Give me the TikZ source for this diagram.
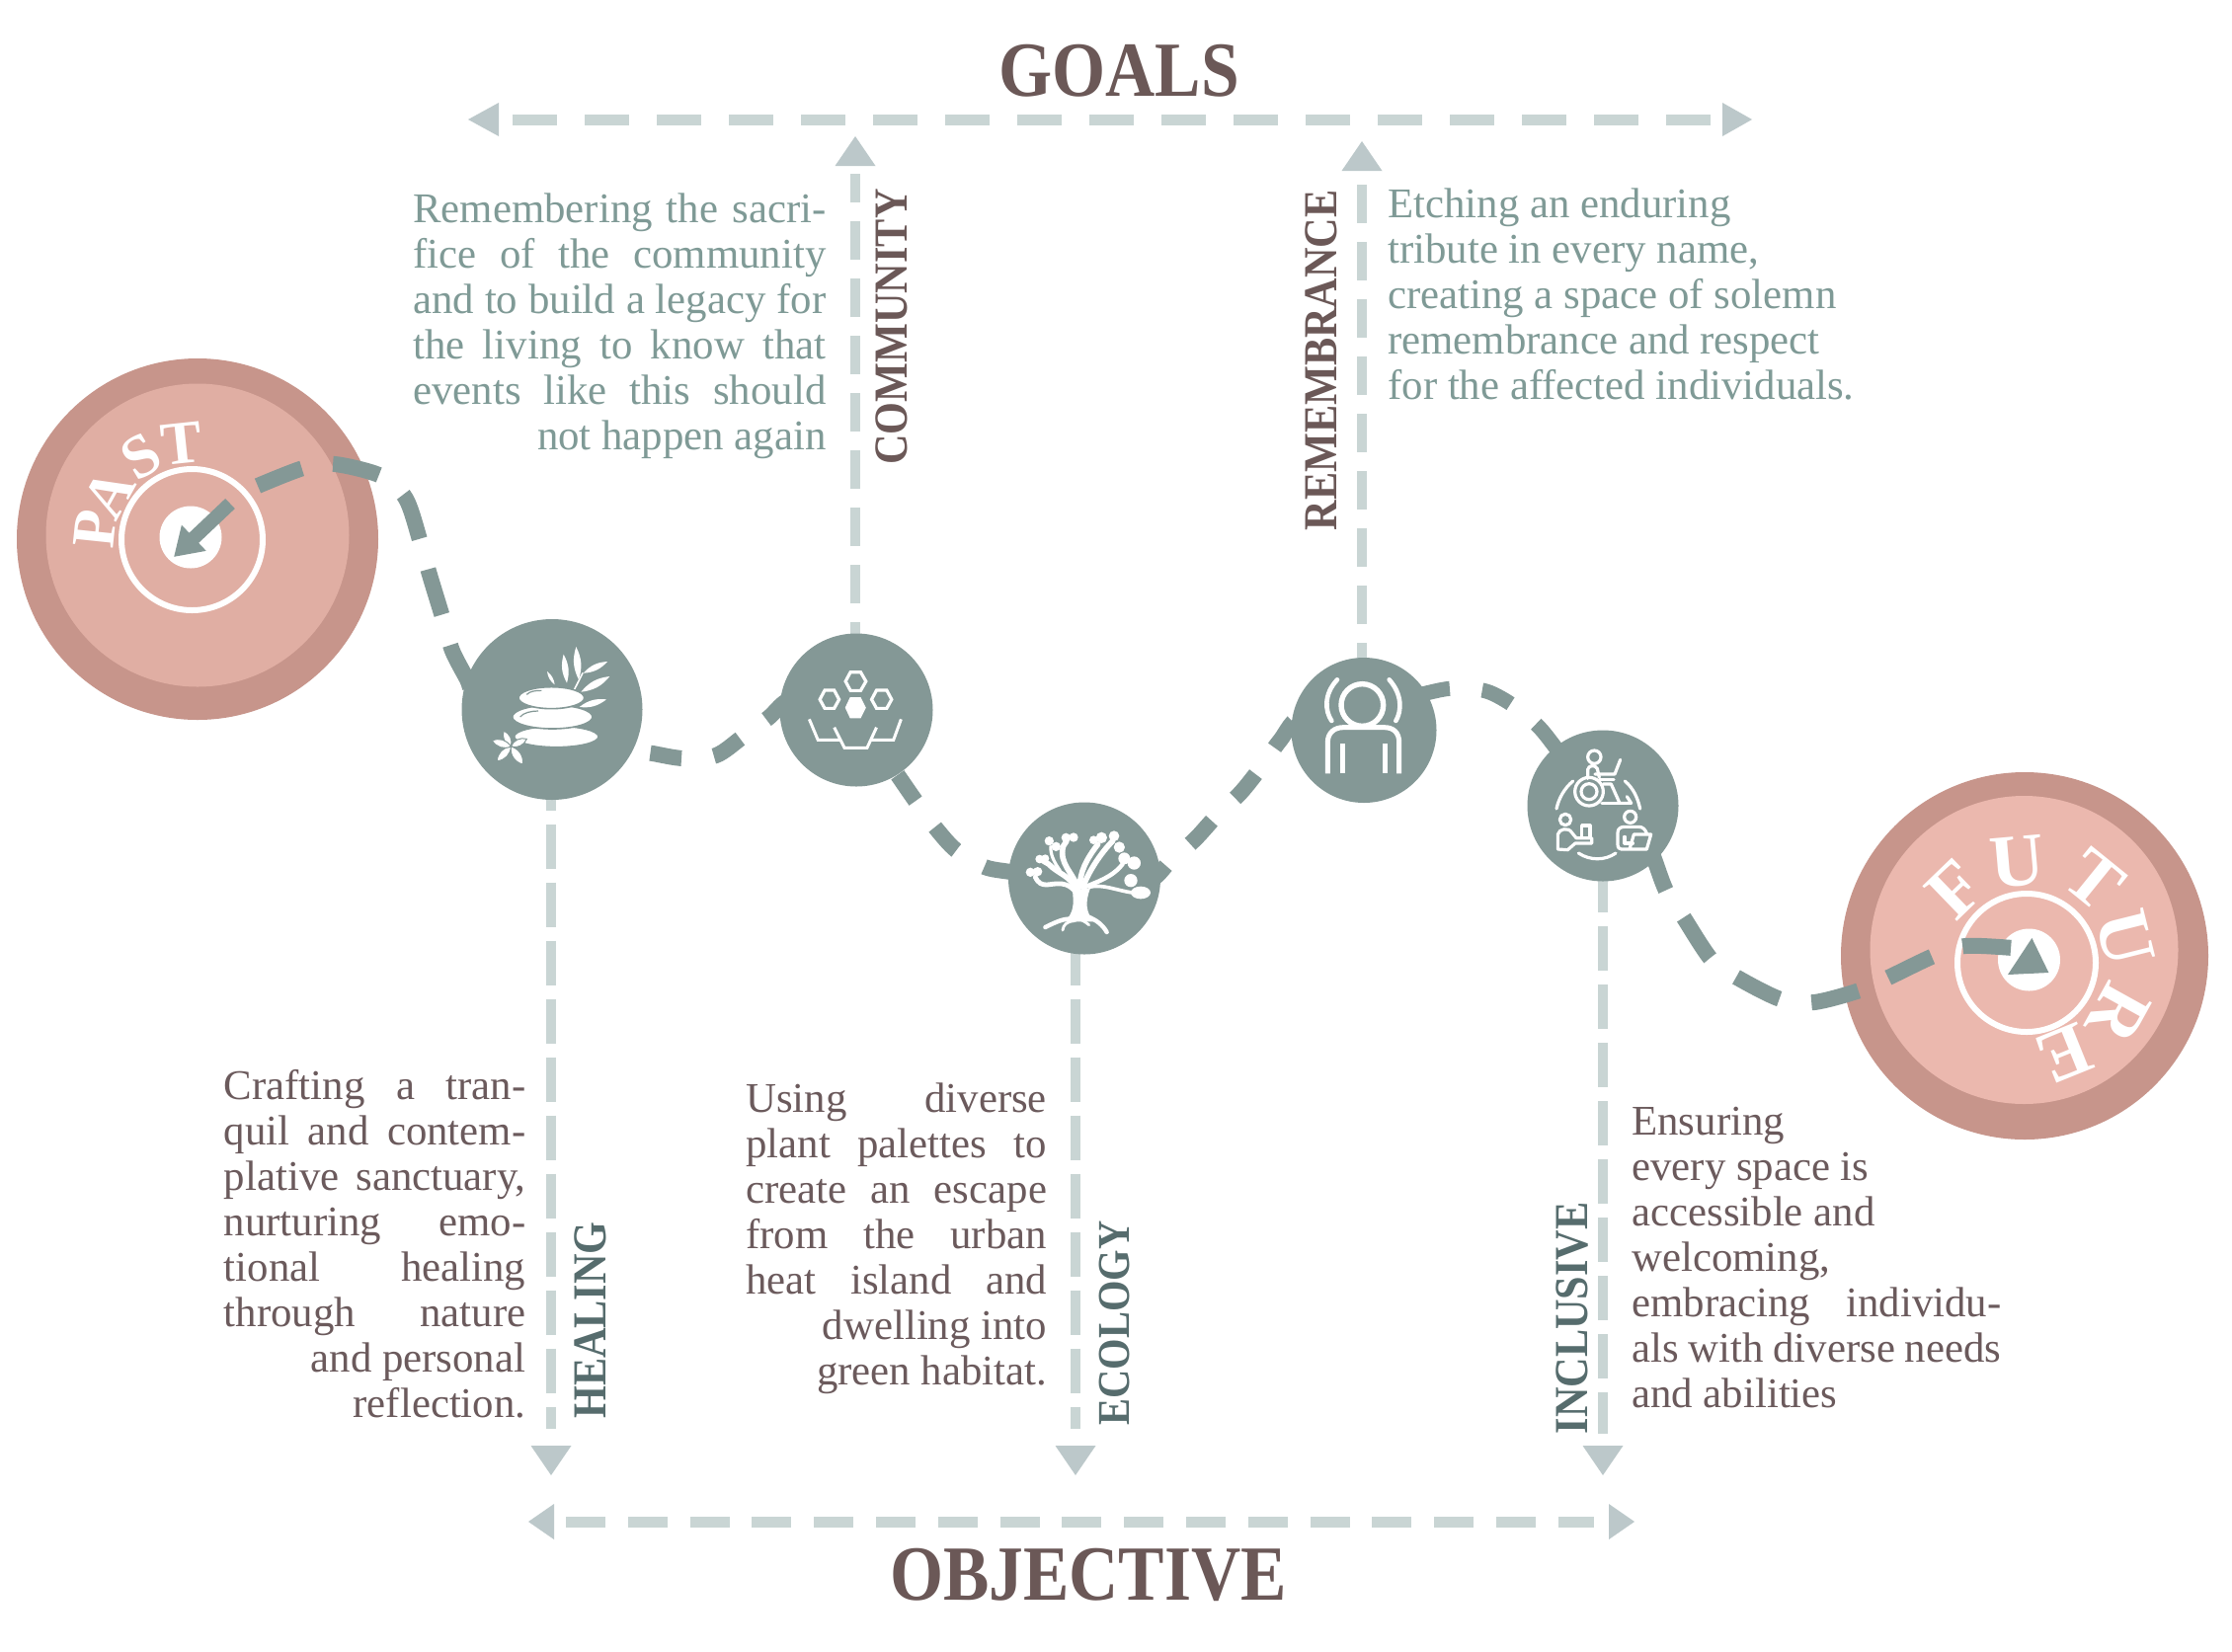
\documentclass[tikz,border=0pt]{standalone}
\usepackage{fontspec}
\setmainfont{Liberation Serif}
\newfontfamily\titlefont[FakeStretch=0.88]{Liberation Serif}
\usetikzlibrary{arrows.meta}
\definecolor{teal1}{HTML}{849896}
\definecolor{tealdark}{HTML}{566C6D}
\definecolor{sage}{HTML}{7F9A96}
\definecolor{bodybrown}{HTML}{6B5A5C}
\definecolor{titlebrown}{HTML}{6B5857}
\definecolor{lightdash}{HTML}{C9D5D4}
\definecolor{tipgrey}{HTML}{BCC8CA}
\definecolor{roseout}{HTML}{C7958B}
\definecolor{rosepast}{HTML}{E0AEA3}
\definecolor{rosefuture}{HTML}{EBB8AE}
\pgfdeclarelayer{big}
\pgfdeclarelayer{lines}
\pgfsetlayers{big,lines,main}
\hbadness=10000
\hfuzz=50pt
\newcommand\Jl[1]{\hbox to\hsize{#1}}
\newcommand\Rl[1]{\hbox to\hsize{\hfill #1}}
\newcommand\Ll[1]{\hbox to\hsize{#1\hfill}}
\newcommand\petal[4]{\fill[white,draw=teal1,line width=.5pt] (#1,#2) to[bend left=42] (#3,#4) to[bend left=42] (#1,#2) -- cycle;}
\newcommand\blade[4]{\fill[white] (#1,#2) to[bend left=22] (#3,#4) to[bend left=22] (#1,#2) -- cycle;}
\newcommand\headdown[1]{\fill[tipgrey] (#1) -- ++(-20.5,-30) -- ++(41,0) -- cycle;}
\newcommand\headup[1]{\fill[tipgrey] (#1) -- ++(-20.5,30) -- ++(41,0) -- cycle;}
\newcommand\headleft[3]{\fill[tipgrey] (#1) -- ++(#2,-#3) -- ++(0,#3) -- ++(0,#3) -- cycle;}
\newcommand\headright[3]{\fill[tipgrey] (#1) -- ++(-#2,-#3) -- ++(0,#3) -- ++(0,#3) -- cycle;}
\tikzset{
  disc/.style={circle,inner sep=0pt,draw=none},
  stopnode/.style={disc,fill=teal1,minimum size=#1},
  vlight/.style={draw=lightdash,line width=5pt},
  pathline/.style={draw=teal1,line width=8pt},
  longd/.style={dash pattern=on 24.5pt off 16.5pt},
  shortd/.style={dash pattern=on 16pt off 16.5pt},
  textblock/.style={inner sep=0pt,anchor=base west,font=\fontsize{21.4}{23.05}\selectfont},
  sidelabel/.style={inner sep=0pt,rotate=90,font=\titlefont\bfseries\fontsize{24}{26}\selectfont},
  bigtitle/.style={inner sep=0pt,text=titlebrown,font=\titlefont\bfseries\fontsize{39.5}{41}\selectfont},
  pastl/.style={inner sep=0pt,text=white,font=\bfseries\fontsize{31}{33}\selectfont},
  futl/.style={inner sep=0pt,text=white,font=\bfseries\fontsize{38}{40}\selectfont},
  iconline/.style={draw=white,line width=1.6pt,line cap=round,line join=round},
  twig/.style={draw=white,line cap=round,line join=round},
}
\begin{document}
\begin{tikzpicture}[x=0.5pt,y=-0.5pt]
\useasboundingbox (0,0) rectangle (2260,1672);

% ---------- large discs
\begin{pgfonlayer}{big}
\fill[white] (0,0) rectangle (2260,1672);
\node[disc,fill=roseout,minimum size=183pt] (past) at (200,546) {};
\node[disc,fill=rosepast,minimum size=153.5pt] (pastin) at (200,542) {};
\node[disc,draw=white,line width=3pt,minimum size=71.5pt] (pastring) at (194.5,546.5) {};
\node[disc,fill=white,minimum size=31.5pt] (pastdot) at (193,544) {};
\node[disc,fill=roseout,minimum size=186pt] (future) at (2050,968) {};
\node[disc,fill=rosefuture,minimum size=156pt] (futin) at (2049.5,962) {};
\node[disc,draw=white,line width=3pt,minimum size=70pt] (futring) at (2052,975) {};
\node[disc,fill=white,minimum size=31.5pt] (futdot) at (2054.5,972) {};
\end{pgfonlayer}

% ---------- stops
\node[stopnode=91.5pt] (healing) at (559,718.5) {};
\node[stopnode=77.5pt] (community) at (867,719) {};
\node[stopnode=77pt] (ecology) at (1098,889.5) {};
\node[stopnode=73.5pt] (remembrance) at (1381,739.5) {};
\node[stopnode=76.5pt] (inclusive) at (1623,816) {};

% ---------- free ends
\coordinate (pathstart) at (261,492);
\coordinate (pathend) at (2038,960);
\coordinate (tiphealing) at (558,1494);
\coordinate (tipecology) at (1089,1494);
\coordinate (tipinclusive) at (1623,1494);
\coordinate (tipcommunity) at (866,138);
\coordinate (tipremembrance) at (1379,143);
\coordinate (goalL) at (474,121);
\coordinate (goalR) at (1774,121);
\coordinate (objL) at (535,1541);
\coordinate (objR) at (1655,1541);
\coordinate (pastarrow) at (233,510);
\coordinate (pastarrowtip) at (176,564);

\begin{pgfonlayer}{lines}
% winding path
\draw[pathline,dash pattern=on 24pt off 16pt] plot[smooth,tension=0.5] coordinates {(pathstart) (307,474) (339,470) (386,482) (411,505) (426,550) (435,582) (449,628) (458,659) (473,688) (490,720) (healing)};
\draw[pathline,shortd,dash phase=10pt] plot[smooth,tension=0.5] coordinates {(healing) (630,757) (661,763) (692,768) (725,765) (751,747) (778,727) (805,707) (community)};
\draw[pathline,shortd,dash phase=26pt] plot[smooth,tension=0.5] coordinates {(community) (895,765) (909,785) (927,811) (947,838) (968,861) (997,878) (1023,883) (1050,888) (ecology)};
\draw[pathline,shortd,dash phase=4pt] plot[smooth,tension=0.5] coordinates {(ecology) (1160,893) (1185,872) (1210,850) (1231,827) (1256,803) (1276,778) (1296,750) (1320,725) (remembrance)};
\draw[pathline,line width=7.5pt,shortd,dash phase=31pt] plot[smooth,tension=0.5] coordinates {(remembrance) (1410,712) (1440,703) (1471,697) (1505,700) (1533,715) (1559,737) (1585,770) (inclusive)};
\draw[pathline,longd,dash phase=9.5pt] plot[smooth,tension=0.5] coordinates {(inclusive) (1665,845) (1675,870) (1687,902) (1704,928) (1733,972) (1759,990) (1803,1012) (1837,1015) (1883,1003) (1912,990) (1958,968) (1990,958) (pathend)};
% vertical dashed connectors
\draw[vlight,shorten >=23.5pt,dash pattern=on 22.5pt off 7pt,dash phase=1pt] (healing.center -| tiphealing) -- (tiphealing);
\draw[vlight,shorten >=23.5pt,dash pattern=on 22.5pt off 7pt,dash phase=27.5pt] (ecology.center -| tipecology) -- (tipecology);
\draw[vlight,shorten >=21pt,dash pattern=on 22.5pt off 7pt,dash phase=27.5pt] (inclusive.center -| tipinclusive) -- (tipinclusive);
\draw[vlight,shorten >=19pt,dash pattern=on 19.5pt off 9.5pt,dash phase=4pt] (community.center -| tipcommunity) -- (tipcommunity);
\draw[vlight,shorten >=19.5pt,dash pattern=on 19.5pt off 9.5pt,dash phase=4pt] (remembrance.center -| tipremembrance) -- (tipremembrance);
% horizontal dashed connectors
\draw[vlight,line width=5.5pt,shorten <=22.5pt,shorten >=20.5pt,dash pattern=on 22.5pt off 14pt] (goalL) -- (goalR);
\draw[vlight,line width=5.5pt,shorten <=19pt,shorten >=20.5pt,dash pattern=on 20pt off 11.4pt] (objL) -- (objR);
\end{pgfonlayer}

% ---------- arrow heads
\headdown{tiphealing}
\headdown{tipecology}
\headdown{tipinclusive}
\headup{tipcommunity}
\headup{tipremembrance}
\headleft{goalL}{31}{17}
\headright{goalR}{30}{17}
\headleft{objL}{26}{18}
\headright{objR}{26}{18}

% ---------- past / future marks
\draw[draw=teal1,line width=7pt,-{Triangle[length=14pt,width=17pt,color=teal1,fill=teal1]}] (pastarrow) -- (pastarrowtip);
\fill[teal1] (2057.4,950) -- (2074.4,985) -- (2033,987) -- cycle;

\node[pastl,rotate=84] (pastP) at (96,536) {P};
\node[pastl,rotate=61] (pastA) at (110,500) {A};
\node[pastl,rotate=31] (pastS) at (143,462) {S};
\node[pastl,rotate=6] (pastT) at (184,449) {T};

\node[futl,rotate=44] (futF) at (1980,900) {F};
\node[futl,rotate=5] (futU) at (2043,873) {U};
\node[futl,rotate=-39] (futT) at (2121,891) {T};
\node[futl,rotate=-76] (futUb) at (2152,950) {U};
\node[futl,rotate=-119] (futR) at (2145,1027) {R};
\node[futl,rotate=-158] (futE) at (2090,1067) {E};

% ---------- titles and side labels
\node[bigtitle] (goals) at (1133,72) {GOALS};
\node[bigtitle] (objective) at (1102,1595) {OBJECTIVE};
\node[sidelabel,text=titlebrown] (lcommunity) at (903,331) {COMMUNITY};
\node[sidelabel,text=titlebrown] (lremembrance) at (1338,365) {REMEMBRANCE};
\node[sidelabel,text=tealdark] (lhealing) at (598,1337) {HEALING};
\node[sidelabel,text=tealdark,font=\titlefont\bfseries\fontsize{23}{25}\selectfont] (lecology) at (1128,1340) {ECOLOGY};
\node[sidelabel,text=tealdark] (linclusive) at (1592,1335) {INCLUSIVE};

% ---------- paragraphs
\node[textblock,text=sage] (tcommunity) at (418,225) {\vtop{\hsize=209pt
\Jl{Remembering the sacri-}
\Jl{fice of the community}
\Jl{and to build a legacy for}
\Jl{the living to know that}
\Jl{events like this should}
\Rl{not happen again}}};
\node[textblock,text=sage] (tremembrance) at (1405,220) {\vtop{\hsize=240pt
\Ll{Etching an enduring}
\Ll{tribute in every name,}
\Ll{creating a space of solemn}
\Ll{remembrance and respect}
\Ll{for the affected individuals.}}};
\node[textblock,text=bodybrown] (thealing) at (226.5,1113) {\vtop{\hsize=152.7pt
\Jl{Crafting a tran-}
\Jl{quil and contem-}
\Jl{plative sanctuary,}
\Jl{nurturing emo-}
\Jl{tional healing}
\Jl{through nature}
\Rl{and personal}
\Rl{reflection.}}};
\node[textblock,text=bodybrown] (tecology) at (755,1126) {\vtop{\hsize=152.3pt
\Jl{Using diverse}
\Jl{plant palettes to}
\Jl{create an escape}
\Jl{from the urban}
\Jl{heat island and}
\Rl{dwelling into}
\Rl{green habitat.}}};
\node[textblock,text=bodybrown] (tinclusive) at (1652,1149) {\vtop{\hsize=187pt
\Ll{Ensuring}
\Ll{every space is}
\Ll{accessible and}
\Ll{welcoming,}
\Jl{embracing individu-}
\Ll{als with diverse needs}
\Ll{and abilities}}};

% ---------- healing icon (zoom coordinates)
\begin{scope}[shift={(480,640)},x=0.16667pt,y=-0.16667pt]
\blade{272}{68}{282}{155}
\blade{310}{45}{318}{145}
\blade{222}{120}{245}{160}
\blade{332}{125}{405}{90}
\blade{325}{182}{412}{135}
\blade{320}{228}{402}{205}
\draw[twig,line width=.8pt] (303,178) -- (330,125);
\fill[white,draw=teal1,line width=.8pt] (250,318) ellipse[x radius=128,y radius=32];
\fill[white,draw=teal1,line width=.8pt] (238,258) ellipse[x radius=122,y radius=36];
\fill[white,draw=teal1,line width=.8pt] (235,200) ellipse[x radius=100,y radius=33];
\draw[teal1,line width=.6pt] (160,190) .. controls (170,180) and (185,178) .. (205,178);
\draw[teal1,line width=.6pt] (140,258) .. controls (150,245) and (175,240) .. (195,240);
\draw[teal1,line width=.6pt] (122,302) -- (145,295);
\petal{112}{348}{90}{300}
\petal{112}{348}{160}{325}
\petal{112}{348}{148}{402}
\petal{112}{348}{70}{392}
\petal{112}{348}{55}{330}
\end{scope}

% ---------- community icon
\begin{scope}[shift={(700,600)},x=0.19135pt,y=-0.16667pt]
\draw[white,line width=1.6pt,line join=miter] (408,270) -- (421,242) -- (448,242) -- (462,270) -- (448,298) -- (421,298) -- cycle;
\draw[white,line width=1.6pt] (340,325) -- (353,297) -- (378,297) -- (391,325) -- (378,352) -- (353,352) -- cycle;
\draw[white,line width=1.6pt] (477,325) -- (490,297) -- (517,297) -- (530,325) -- (517,352) -- (490,352) -- cycle;
\fill[white] (407,350) -- (420,318) -- (448,318) -- (462,350) -- (448,382) -- (420,382) -- cycle;
\draw[white,line width=1.5pt,line join=miter] (312,385) -- (335,448) -- (392,448);
\draw[white,line width=1.5pt,line join=miter] (378,410) -- (405,472) -- (465,472) -- (490,410);
\draw[white,line width=1.5pt,line join=miter] (476,448) -- (535,448) -- (555,385);
\end{scope}

% ---------- ecology icon
\begin{scope}[shift={(1030,820)},x=0.16667pt,y=-0.16667pt]
\fill[white] (168,245) .. controls (172,290) and (172,310) .. (145,340) -- (232,340) .. controls (208,310) and (206,280) .. (222,238) -- cycle;
\draw[twig,line width=2.2pt] (175,335) .. controls (150,325) and (120,340) .. (85,357);
\draw[twig,line width=1.4pt] (172,338) .. controls (150,340) and (140,350) .. (138,366);
\draw[twig,line width=1.4pt] (195,335) .. controls (205,340) and (212,345) .. (218,350);
\draw[twig,line width=2.2pt] (215,325) .. controls (240,335) and (260,350) .. (272,372);
\draw[twig,line width=2.4pt] (180,255) .. controls (155,215) and (120,225) .. (90,228) .. controls (75,228) and (65,225) .. (55,205);
\draw[twig,line width=2.8pt] (178,240) .. controls (160,200) and (125,195) .. (95,165) -- (78,155);
\draw[twig,line width=1.6pt] (130,185) .. controls (112,160) and (100,135) .. (102,112);
\draw[twig,line width=2.8pt] (185,240) .. controls (170,190) and (125,165) .. (140,110) -- (150,95);
\draw[twig,line width=2.8pt] (190,235) .. controls (190,190) and (210,150) .. (245,105);
\draw[twig,line width=2.8pt] (200,235) .. controls (215,190) and (255,130) .. (290,95);
\draw[twig,line width=2.2pt] (205,235) .. controls (240,220) and (290,205) .. (320,165);
\draw[twig,line width=1.8pt] (218,235) .. controls (260,225) and (300,245) .. (350,252);
\foreach \lx/\ly/\lr in {40/190/14,62/188/14,68/150/13,85/148/12,97/95/14,118/112/14,148/85/14,171/84/14,232/92/13,256/85/17,294/80/16,310/114/17,325/148/18,355/162/20,345/215/20}
  \fill[white] (\lx,\ly) circle[radius=\lr];
\fill[white] (375,252) ellipse[x radius=30,y radius=19];
\end{scope}

% ---------- remembrance icon
\begin{scope}[shift={(1280,640)},x=0.16667pt,y=-0.16667pt]
\draw[iconline,line width=2.7pt,line cap=butt] (298,222) circle[radius=64];
\draw[iconline,line width=2.5pt,line cap=butt] (193,430) -- (193,335) .. controls (193,305) and (215,290) .. (240,290) -- (365,290) .. controls (392,290) and (410,305) .. (410,335) -- (410,430);
\draw[iconline,line width=2.5pt,line cap=butt] (237,340) -- (237,430);
\draw[iconline,line width=2.5pt,line cap=butt] (367,340) -- (367,430);
\draw[iconline,line width=2.3pt] (222,145) .. controls (180,190) and (185,240) .. (205,270);
\draw[iconline,line width=2.3pt] (380,145) .. controls (420,190) and (418,240) .. (400,270);
\end{scope}

% ---------- inclusive icon
\begin{scope}[shift={(1560,750)},x=0.16667pt,y=-0.16667pt]
\draw[iconline] (163,50) circle[radius=20];
\draw[iconline] (147,155) circle[radius=43];
\draw[iconline] (147,155) circle[radius=24];
\draw[iconline] (143,115) -- (143,88) .. controls (145,75) and (165,72) .. (172,85) -- (178,112);
\draw[iconline] (165,102) -- (225,102) -- (242,58);
\draw[iconline] (178,118) -- (222,118);
\draw[iconline] (190,132) -- (214,132) -- (240,190) -- (275,190) -- (262,170);
\draw[iconline] (186,190) -- (240,190);
\draw[iconline] (98,123) .. controls (72,145) and (55,175) .. (48,207);
\draw[iconline] (256,123) .. controls (282,145) and (295,175) .. (302,207);
\draw[iconline] (115,342) .. controls (150,365) and (195,365) .. (228,342);
\draw[iconline] (75,240) circle[radius=17];
\draw[iconline] (52,330) -- (52,285) .. controls (55,268) and (85,262) .. (95,280) -- (108,296) -- (155,296) -- (155,312) -- (105,312) -- (82,332) -- cycle;
\draw[iconline] (125,295) -- (125,258) -- (150,258) -- (150,295);
\draw[iconline] (272,232) circle[radius=18];
\draw[iconline] (268,330) -- (245,330) .. controls (238,330) and (234,325) .. (234,315) -- (234,280) .. controls (234,268) and (242,262) .. (255,262) -- (298,262) .. controls (310,262) and (318,270) .. (322,282);
\draw[iconline] (270,330) -- (322,330) -- (335,285) -- (283,285) -- (270,330);
\draw[iconline] (255,292) -- (255,312) -- (280,312);
\end{scope}
\end{tikzpicture}
\end{document}
